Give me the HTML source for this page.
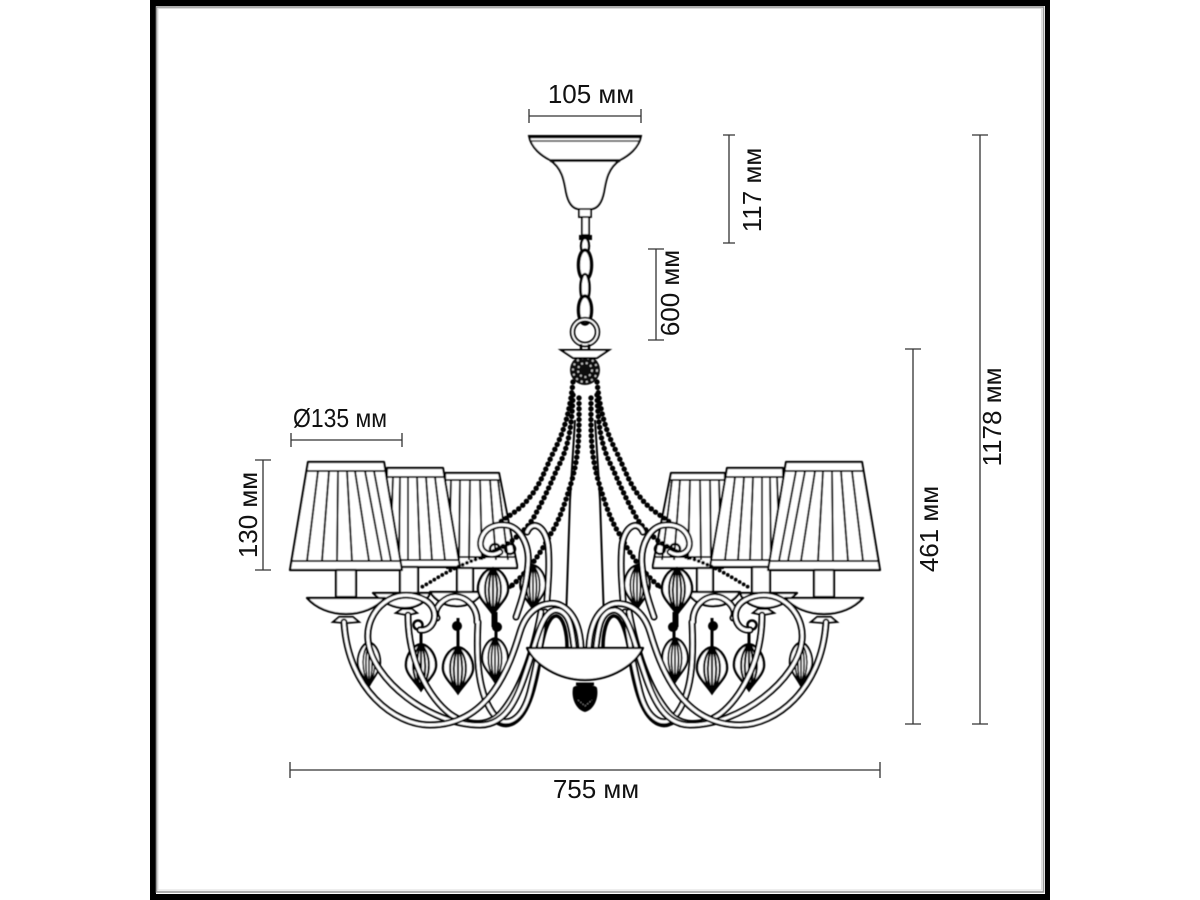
<!DOCTYPE html>
<html><head><meta charset="utf-8"><style>
html,body{margin:0;padding:0;background:#fff}
svg{display:block}
text{font-family:"Liberation Sans",sans-serif;font-size:26px;fill:#111;text-anchor:middle}
.d{stroke:#333;stroke-width:1.3;fill:none}
.l{stroke:#000;stroke-width:2;fill:none}
.s{fill:#fff;stroke:#000;stroke-width:2.2;stroke-linejoin:round}
.ao{fill:none;stroke:#000;stroke-width:7;stroke-linecap:round}
.ai{fill:none;stroke:#fff;stroke-width:3;stroke-linecap:round}
.b{fill:none;stroke:#000;stroke-width:5.4;stroke-linecap:round;stroke-dasharray:0 5.4}
.bs{fill:none;stroke:#000;stroke-width:3.8;stroke-linecap:round;stroke-dasharray:0 4.6}
.g{fill:#fff;stroke:#000;stroke-width:2}
</style></head><body>
<svg width="1200" height="900" viewBox="0 0 1200 900" xmlns="http://www.w3.org/2000/svg">
<defs>
<filter id="bl" filterUnits="userSpaceOnUse" x="0" y="0" width="1200" height="900"><feGaussianBlur stdDeviation="0.45"/></filter>
<path id="a1" d="M344 622C348 690 395 725 430 725C490 725 510 665 520 632C528 606 548 600 560 605C575 612 580 630 581 647"/>
<path id="a2" d="M420 630C434 632 442 610 425 600C395 584 365 610 368 640C372 680 430 725 480 725C510 725 520 690 530 660C540 625 545 612 555 610C570 610 572 630 574 647"/>
<path id="a3" d="M408 615C408 665 432 700 450 714C470 728 490 726 502 712C520 690 533 655 541 612"/>
<path id="a4" d="M477 622C478 605 462 592 448 598C438 603 433 612 437 618M478 622C476 660 478 695 495 716C505 728 522 722 530 692C537 665 542 635 545 612"/>
<path id="a5" d="M500 552C490 558 478 552 481 540C484 528 495 524 505 525C520 526 530 545 528 565C526 590 520 605 516 617"/>
<path id="a6" d="M527 532C532 520 545 525 548 545C550 565 548 585 547 600"/>
<g id="orn">
<path d="M0 -23C-10 -21 -15 -10 -15 -2C-15 7 -6 14 0 23C6 14 15 7 15 -2C15 -10 10 -21 0 -23Z" fill="#fff" stroke="#000" stroke-width="2.6"/>
<path d="M0 -23V23M0 -23C-5 -12 -6 8 0 23M0 -23C5 -12 6 8 0 23M0 -23C-10 -12 -11 6 0 23M0 -23C10 -12 11 6 0 23" fill="none" stroke="#000" stroke-width="2.2"/>
</g>
<g id="half">
<!-- third shade -->
<path class="s" d="M445 473H499L517 565V568H447Z"/>
<path class="l" d="M445 480H501M451 480L449 560M460 480L459 560M470 480L469 560M480 480L482 560M490 480L496 560M498 480L508 560M447 557H516"/>
<path class="s" d="M457 568H473V592H457Z"/>
<path class="s" d="M430 592H482C478 602 465 607 455 606C445 606 435 600 430 592Z"/>
<!-- second shade -->
<path class="s" d="M387 468H443L460 567H385Z"/>
<path class="l" d="M388 477H446M393 477L390 560M400 477L399 560M408 477L408 560M417 477L420 560M426 477L432 560M435 477L445 560M388 560H459"/>
<path class="s" d="M400 567H418V594H400Z"/>
<path class="s" d="M373 593H430C427 602 416 608 405 608C392 608 382 602 373 593Z"/>
<path d="M396 613L402 609H412L417 613L407 615Z" fill="#fff" stroke="#000" stroke-width="2"/>
<!-- big shade -->
<path class="s" d="M308 462H384L402 570H290Z"/>
<path class="l" d="M306 471H387M292 561H400M318 471L307 561M329 471L322 561M338 471L337 561M347 471L352 561M355 471L369 561M365 471L382 561M374 471L391 561"/>
<path class="s" d="M336 570H356V597H336Z"/>
<path class="s" d="M307 598H385C376 608 362 614 346 614C330 614 316 608 307 598Z"/>
<path d="M333 622L339 617H353L359 622L346 623Z" fill="#fff" stroke="#000" stroke-width="2"/>
<!-- center rod -->
<path class="l" d="M575 420L570 500L566 620"/>
<!-- beads -->
<path class="b" d="M573 382C570 410 565 430 553 453C545 470 540 485 530 497C520 510 510 515 500 522"/>
<path class="b" d="M573 395C572 420 570 445 558 467C550 485 545 497 535 515C525 535 500 550 480 558"/>
<path class="bs" d="M480 558C450 568 435 580 420 588"/>
<path class="b" d="M579 398C579 430 580 450 572 480C566 500 560 520 550 535C540 555 525 575 510 587"/>
<path class="bs" d="M510 587C498 591 490 592 480 593"/>
<!-- ornaments -->
<use href="#orn" transform="translate(369 664) scale(.75 .95)"/>
<use href="#orn" transform="translate(421 667)"/>
<use href="#orn" transform="translate(458 670)"/>
<use href="#orn" transform="translate(495 660) scale(.85 .95)"/>
<use href="#orn" transform="translate(493 591)"/>
<use href="#orn" transform="translate(533 587) scale(.85 .95)"/>
<path d="M421 645V632M458 648V618M496 640V612M493 612V627" stroke="#000" stroke-width="3" fill="none"/>
<circle cx="457" cy="626" r="5" fill="#000"/><circle cx="497" cy="627" r="5" fill="#000"/><circle cx="418" cy="625" r="4.500" fill="none" stroke="#000" stroke-width="2.500"/>
<circle cx="495" cy="549" r="5" fill="none" stroke="#000" stroke-width="2.500"/><circle cx="510" cy="549" r="5" fill="none" stroke="#000" stroke-width="2.500"/>
<!-- dark bundles -->
<path d="M541 650C546 622 552 615 557 616C564 618 567 634 567 647" fill="none" stroke="#000" stroke-width="3.500"/>
<path d="M495 722C510 732 525 722 534 690C538 675 540 665 541 650" fill="none" stroke="#000" stroke-width="3"/>
<!-- arms -->
<use href="#a6" class="ao"/><use href="#a6" class="ai"/>
<use href="#a5" class="ao"/><use href="#a5" class="ai"/>
<use href="#a4" class="ao"/><use href="#a4" class="ai"/>
<use href="#a3" class="ao"/><use href="#a3" class="ai"/>
<use href="#a2" class="ao"/><use href="#a2" class="ai"/>
<use href="#a1" class="ao"/><use href="#a1" class="ai"/>
</g>
</defs>
<rect width="1200" height="900" fill="#fff"/>
<!-- frame -->
<path d="M150 0H1050V900H150ZM156 6V894H1045V6Z" fill="#000" fill-rule="evenodd"/>
<rect x="156.500" y="7" width="887" height="885" fill="none" stroke="#999" stroke-width="1.600"/>
<rect x="158" y="8.500" width="883.500" height="881.500" fill="none" stroke="#ddd" stroke-width="1"/>
<!-- chandelier -->
<g filter="url(#bl)">
<use href="#half"/>
<use href="#half" transform="translate(1170 0) scale(-1 1)"/>
<!-- canopy -->
<path class="g" d="M529 136H641C639 148 628 156 620 160C608 168 606 180 604 192C602 202 598 208 592 209H578C572 208 568 202 566 192C564 180 562 168 550 160C542 156 531 148 529 136Z"/>
<path d="M530 137H640" stroke="#000" stroke-width="2.400"/><path d="M531 141H639" stroke="#333" stroke-width="1.500"/>
<path d="M550 160.500H620" stroke="#111" stroke-width="3"/>
<rect x="579" y="209" width="12" height="8" fill="#fff" stroke="#000" stroke-width="1.800"/>
<rect x="582" y="217" width="7" height="18" fill="#fff" stroke="#000" stroke-width="1.800"/>
<rect x="579" y="235" width="13" height="5" fill="#000"/>
<!-- chain -->
<ellipse cx="585" cy="246" rx="4" ry="8" fill="#fff" stroke="#000" stroke-width="2.400"/>
<ellipse cx="585" cy="265" rx="6.500" ry="15" fill="#fff" stroke="#000" stroke-width="3.500"/>
<ellipse cx="585" cy="288" rx="4.500" ry="14" fill="#fff" stroke="#000" stroke-width="2.600"/>
<ellipse cx="585" cy="310" rx="6.500" ry="14" fill="#fff" stroke="#000" stroke-width="3.500"/>
<circle cx="585" cy="332" r="12.500" fill="none" stroke="#000" stroke-width="5.500"/>
<circle cx="585" cy="332" r="12.500" fill="none" stroke="#fff" stroke-width="1.800"/>
<path d="M581 344V351M589 344V351" stroke="#000" stroke-width="2.400"/>
<!-- ball -->
<circle cx="585" cy="370" r="15" fill="#111"/>
<circle cx="585" cy="370" r="12" fill="none" stroke="#ccc" stroke-width="1.800" stroke-dasharray="1.800 3.500"/>
<circle cx="585" cy="370" r="7" fill="none" stroke="#ccc" stroke-width="1.800" stroke-dasharray="1.800 3"/>
<path class="g" d="M561 350H609L597 358H573Z"/>
<!-- bowl -->
<path class="s" d="M527 648H643C636 664 612 680 585 680C558 680 534 664 527 648Z"/>
<path d="M573 688C573 684 597 684 597 688C599 698 594 710 585 712C576 710 571 698 573 688Z" fill="#000"/>
<path d="M576 684H594" stroke="#000" stroke-width="3"/>
<path d="M578 700L585 706L592 700" stroke="#777" fill="none" stroke-dasharray="1.500 1.500"/>
</g>
<!-- dimensions -->
<path class="d" d="M529 116H641M529 109V123M641 109V123"/>
<text x="591" y="103">105 мм</text>
<path class="d" d="M729 135V243M723 135H735M723 243H735"/>
<text transform="translate(761 190) rotate(-90)">117 мм</text>
<path class="d" d="M656 249V340M648 249H664M648 340H664"/>
<text transform="translate(679 293) rotate(-90)">600 мм</text>
<path class="d" d="M913 349V724M905 349H921M905 724H921"/>
<text transform="translate(938 529) rotate(-90)">461 мм</text>
<path class="d" d="M980 135V724M972 135H988M972 724H988"/>
<text transform="translate(1001 417) rotate(-90)">1178 мм</text>
<path class="d" d="M263 460V570M255 460H271M255 570H271"/>
<text transform="translate(257 515) rotate(-90)">130 мм</text>
<path class="d" d="M291 440H402M291 433V447M402 433V447"/>
<text x="340" y="427" textLength="94" lengthAdjust="spacingAndGlyphs">Ø135 мм</text>
<path class="d" d="M290 770H880M290 762V778M880 762V778"/>
<text x="596" y="798">755 мм</text>
</svg>
</body></html>
